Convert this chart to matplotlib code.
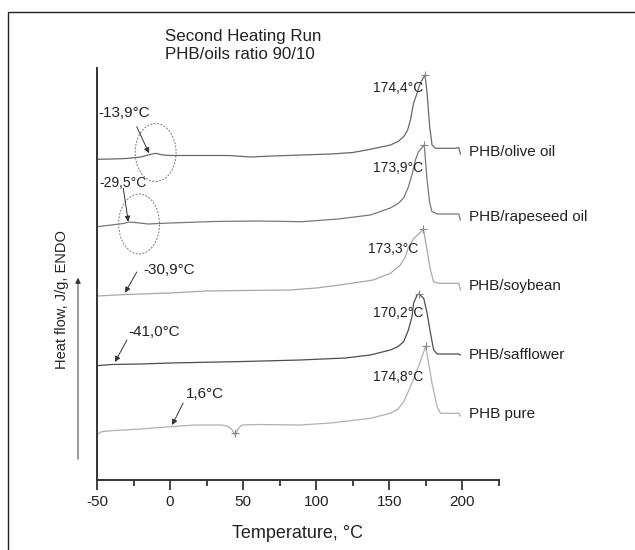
import matplotlib.pyplot as plt
from matplotlib.patches import Ellipse, Rectangle, FancyArrowPatch

plt.rcParams['font.family'] = ['Liberation Sans', 'DejaVu Sans']
plt.rcParams['axes.unicode_minus'] = False

# DSC second heating curves, temperature in °C, heat flow in arbitrary units
# (curves are offset vertically like in the original figure)
olive_t = [-50, -40, -30, -20, -15, -10, -5, 0, 10, 20, 40, 55, 70, 90, 110, 125, 137,
           150.7, 156, 159.8, 162.5, 164.4, 166.6, 169.0, 171.2, 174.4, 175.8, 177.6, 179.2,
           181.5, 195.2, 197.5, 198.6]
olive_hf = [320.7, 321, 321.5, 323, 325, 326.7, 325, 324.5, 324.5, 324.5, 324.5, 323, 324,
            325, 326, 327.5, 330.7, 335, 338.5, 343.3, 350, 360, 377, 387, 397, 405, 387,
            353, 335, 331.7, 331.7, 332.5, 326]

rape_t = [-50, -40, -32, -28, -24, -15, 0, 30, 60, 90, 115, 137, 150.7, 156, 159.8, 163.0,
          165.8, 167.8, 169.9, 173.9, 174.5, 175.8, 177.6, 179.2, 182.7, 197.5, 198.6]
rape_hf = [253.3, 255, 256.5, 258, 257.5, 256, 257, 258.5, 259, 258.3, 261, 265, 272, 276.5,
           282, 293, 307, 320, 328.3, 335, 323, 300, 277, 268.3, 266, 266, 260]

soy_t = [-50, -30, 0, 24, 50, 82, 100, 116, 139, 150.7, 157.5, 161, 163.2, 166.7, 170.1,
         173.3, 175.8, 178.1, 180.3, 183.8, 197.5, 198.6]
soy_hf = [184, 185.5, 187, 189, 189.5, 190, 192, 195, 200, 206.7, 215, 223.3, 233.3, 241.7,
          246, 250.7, 230, 210, 198.3, 196.7, 196.7, 190]

saff_t = [-50, -40, -20, 0, 50, 89, 120, 137, 150.7, 156, 159.8, 163.0, 165.5, 166.6, 169.0,
          170.2, 173.5, 175.8, 178.1, 180.3, 182.7, 197.5, 198.6]
saff_hf = [114.3, 115.5, 116, 117, 118.5, 120, 122, 125, 130, 133.5, 138.3, 150, 163.3, 177,
           185, 186, 181.7, 167, 147, 130, 126, 126, 125]

pure_t = [-50, -49.5, -47, -40, -20, 0, 17, 35, 39, 42, 44.5, 46.5, 49, 60, 89, 110, 137,
          150.7, 156, 159.8, 164.4, 169.0, 172.4, 174.8, 176.9, 179.2, 182.7, 184.9, 197.5,
          198.6]
pure_hf = [38, 46, 48.3, 49.3, 51, 53.3, 55, 55, 54, 51, 45, 51, 55, 55.5, 55, 57, 61.7,
           66.7, 71, 78.3, 93.3, 110, 123.3, 134, 116.7, 96.7, 73.3, 66.7, 66.7, 64]

series_names = ['PHB/olive oil', 'PHB/rapeseed oil', 'PHB/soybean', 'PHB/safflower', 'PHB pure']
peak_labels = ['174,4°C', '173,9°C', '173,3°C', '170,2°C', '174,8°C']
tg_labels = ['-13,9°C', '-29,5°C', '-30,9°C', '-41,0°C', '1,6°C']
pure_dip = (44.5, 47)

curves = [(olive_t, olive_hf), (rape_t, rape_hf), (soy_t, soy_hf), (saff_t, saff_hf),
          (pure_t, pure_hf)]
colors = ['#686868', '#787878', '#a8a8a8', '#4e4e4e', '#b0b0b0']

fig = plt.figure(figsize=(6.35, 5.5), dpi=100)
ax = fig.add_axes([97 / 635, 70 / 550, 402 / 635, 412 / 550])

# outer frame of the original figure
fig.patches.append(Rectangle((8 / 635, -0.1), 1.2, 1 - 11.7 / 550 + 0.1,
                             transform=fig.transFigure, fill=False,
                             edgecolor='#222222', linewidth=1.0))

for (t, hf), c in zip(curves, colors):
    ax.plot(t, hf, color=c, linewidth=0.9)
    i = hf.index(max(hf))
    ax.plot(t[i], hf[i], marker='+', color='#888888', markersize=6, markeredgewidth=0.8)

ax.plot(*pure_dip, marker='+', color='#888888', markersize=6, markeredgewidth=0.8)

# series names on the right
name_y = [328.3, 263.3, 194, 125, 66]
for name, y in zip(series_names, name_y):
    ax.text(204.6, y, name, fontsize=11, color='#222222', ha='left', va='center')

# peak temperatures
peak_pos = [(173.3, 392), (173.0, 312.5), (170.1, 230.7), (173.5, 166.7), (173.5, 103.3)]
for lab, (x, y) in zip(peak_labels, peak_pos):
    ax.text(x, y, lab, fontsize=10, color='#222222', ha='right', va='center')

# glass transition annotations
arrow_kw = dict(arrowstyle='-|>', color='#333333', lw=0.7, mutation_scale=8,
                shrinkA=0, shrinkB=0)
tg_text = [(-49.3, 367, 11), (-48.3, 297, 10), (-18.5, 210, 11), (-28.8, 148, 11),
           (11.0, 86, 11)]
tg_arrows = [((-22.8, 353.3), (-14.4, 326.7)), ((-32.0, 291.7), (-28.6, 258.3)),
             ((-22.8, 208), (-30.8, 187.3)), ((-29.5, 140), (-37.7, 118)),
             ((8.9, 77), (1.4, 55))]
for lab, (x, y, fs), (a0, a1) in zip(tg_labels, tg_text, tg_arrows):
    ax.text(x, y, lab, fontsize=fs, color='#222222', ha='left', va='center')
    ax.annotate('', xy=a1, xytext=a0, arrowprops=arrow_kw)

for cx, cy, h in [(-9.9, 327.5, 58), (-21.2, 256, 60)]:
    ax.add_patch(Ellipse((cx, cy), 28, h, fill=False, edgecolor='#777777',
                         linestyle=(0, (2, 1.5)), linewidth=0.7))

ax.set_xlim(-50, 225)
ax.set_ylim(0, 412)
ax.set_xticks([-50, 0, 50, 100, 150, 200])
ax.set_xticks([-25, 25, 75, 125, 175, 225], minor=True)
ax.set_yticks([])
ax.tick_params(axis='x', which='major', direction='out', length=7, width=1.2,
               labelsize=11, colors='#222222', pad=4)
ax.tick_params(axis='x', which='minor', direction='out', length=4, width=1.2,
               colors='#222222')
for s in ['top', 'right']:
    ax.spines[s].set_visible(False)
for s in ['left', 'bottom']:
    ax.spines[s].set_linewidth(1.4)
    ax.spines[s].set_color('#333333')

ax.set_xlabel('Temperature, °C', fontsize=13, color='#222222', labelpad=11)

fig.text(62 / 635, 1 - 300 / 550, 'Heat flow, J/g, ENDO', rotation=90, fontsize=10.5,
         color='#222222', ha='center', va='center')
fig.patches.append(FancyArrowPatch(
    (78 / 635, 1 - 462 / 550), (78 / 635, 1 - 275 / 550), transform=fig.transFigure,
    arrowstyle='-|>', mutation_scale=8, color='#333333', lw=0.7))

fig.text(165 / 635, 1 - 40.7 / 550, 'Second Heating Run', fontsize=12.2, color='#222222',
         ha='left', va='baseline')
fig.text(165 / 635, 1 - 59 / 550, 'PHB/oils ratio 90/10', fontsize=12.2, color='#222222',
         ha='left', va='baseline')

fig.savefig('out.png', dpi=100)
